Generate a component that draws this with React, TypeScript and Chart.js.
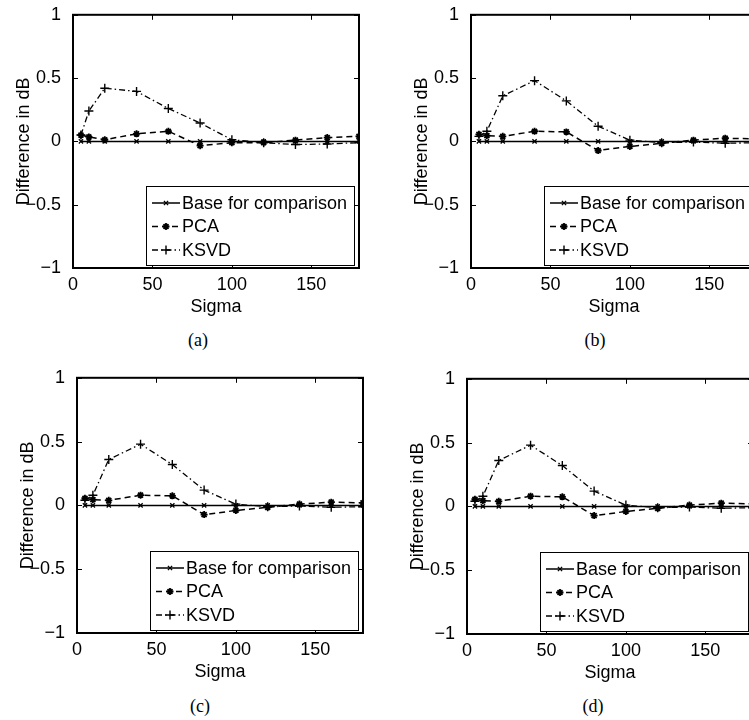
import React, { useEffect, useRef } from "react";
import { Chart, registerables } from "chart.js";

Chart.register(...registerables);

// ---- data ----
const sigma = [5, 10, 20, 40, 60, 80, 100, 120, 140, 160, 180];
const baseValues = [0, 0, 0, 0, 0, 0, 0, 0, 0, 0, 0];
const pcaA = [0.05, 0.035, 0.013, 0.06, 0.08, -0.034, -0.01, -0.01, 0.01, 0.03, 0.04];
const ksvdA = [0.05, 0.24, 0.42, 0.395, 0.26, 0.145, 0.013, -0.01, -0.025, -0.02, -0.01];
const pcaB = [0.056, 0.045, 0.04, 0.08, 0.075, -0.072, -0.04, -0.015, 0.01, 0.025, 0.02];
const ksvdB = [0.04, 0.08, 0.36, 0.48, 0.32, 0.12, 0.01, -0.01, -0.005, -0.015, -0.01];
const pcaC = [0.056, 0.045, 0.04, 0.08, 0.075, -0.072, -0.04, -0.015, 0.01, 0.025, 0.02];
const ksvdC = [0.04, 0.08, 0.36, 0.48, 0.32, 0.12, 0.01, -0.01, -0.005, -0.015, -0.01];
const pcaD = [0.056, 0.045, 0.04, 0.08, 0.075, -0.072, -0.04, -0.015, 0.01, 0.025, 0.02];
const ksvdD = [0.04, 0.08, 0.36, 0.48, 0.32, 0.12, 0.01, -0.01, -0.005, -0.015, -0.01];
const xTicks = [0, 50, 100, 150];
const yTicks = [-1, -0.5, 0, 0.5, 1];
const seriesLabels = ["Base for comparison", "PCA", "KSVD"];
const xTitle = "Sigma";
const yTitle = "Difference in dB";
const captions = ["(a)", "(b)", "(c)", "(d)"];

const FONT = '"Liberation Sans", Arial, Helvetica, sans-serif';

function fmtY(v: number): string {
  if (v < 0) return "\u2212" + String(Math.abs(v));
  return String(v);
}

function drawMarker(ctx: CanvasRenderingContext2D, style: string, x: number, y: number, r: number, w: number) {
  ctx.save();
  ctx.setLineDash([]);
  ctx.lineWidth = w;
  ctx.strokeStyle = "#000";
  ctx.beginPath();
  if (style === "cross" || style === "star") {
    ctx.moveTo(x - r, y);
    ctx.lineTo(x + r, y);
    ctx.moveTo(x, y - r);
    ctx.lineTo(x, y + r);
  }
  if (style === "crossRot" || style === "star") {
    const d = r * 0.7071;
    ctx.moveTo(x - d, y - d);
    ctx.lineTo(x + d, y + d);
    ctx.moveTo(x - d, y + d);
    ctx.lineTo(x + d, y - d);
  }
  ctx.stroke();
  ctx.restore();
}

const framePlugin = {
  id: "matlabFrame",
  afterDatasetsDraw(chart: any) {
    const { ctx, chartArea } = chart;
    const { left, top, right, bottom } = chartArea;
    const xs = chart.scales.x;
    const ys = chart.scales.y;
    const tl = 5;
    ctx.save();
    ctx.strokeStyle = "#000";
    ctx.lineWidth = 1;
    ctx.setLineDash([]);
    ctx.beginPath();
    for (const v of xTicks) {
      const px = Math.round(xs.getPixelForValue(v)) + 0.5;
      ctx.moveTo(px, bottom);
      ctx.lineTo(px, bottom - tl);
      ctx.moveTo(px, top);
      ctx.lineTo(px, top + tl);
    }
    for (const v of yTicks) {
      const py = Math.round(ys.getPixelForValue(v)) + 0.5;
      ctx.moveTo(left, py);
      ctx.lineTo(left + tl, py);
      ctx.moveTo(right, py);
      ctx.lineTo(right - tl, py);
    }
    ctx.stroke();
    ctx.lineWidth = 2;
    ctx.strokeRect(left, top, right - left, bottom - top);
    ctx.restore();
  },
};

const legendPlugin = {
  id: "boxLegend",
  afterDraw(chart: any) {
    const { ctx, chartArea } = chart;
    const bx = chartArea.left + 73;
    const by = chartArea.bottom - 82;
    const bw = 208;
    const bh = 79;
    ctx.save();
    ctx.fillStyle = "#fff";
    ctx.fillRect(bx, by, bw, bh);
    ctx.strokeStyle = "#000";
    ctx.lineWidth = 1;
    ctx.setLineDash([]);
    ctx.strokeRect(bx + 0.5, by + 0.5, bw, bh);
    chart.data.datasets.forEach((ds: any, i: number) => {
      const yy = by + 17 + i * 23.5;
      ctx.save();
      ctx.strokeStyle = "#000";
      ctx.lineWidth = ds.borderWidth;
      ctx.setLineDash(ds.borderDash || []);
      ctx.beginPath();
      ctx.moveTo(bx + 6, yy);
      ctx.lineTo(bx + 34, yy);
      ctx.stroke();
      ctx.restore();
      drawMarker(ctx, ds.pointStyle, bx + 20, yy, ds.pointRadius, ds.pointBorderWidth);
      ctx.fillStyle = "#000";
      ctx.font = "18px " + FONT;
      ctx.textBaseline = "middle";
      ctx.textAlign = "left";
      ctx.fillText(ds.label, bx + 36, yy + 1);
    });
    ctx.restore();
  },
};

type PanelProps = {
  pca: number[];
  ksvd: number[];
  L: number;
  T: number;
  B: number;
};

function Panel({ pca, ksvd, L, T, B }: PanelProps) {
  const ref = useRef<HTMLCanvasElement>(null);
  const padTop = 14.5;
  const xAxisH = 57;
  const yAxisW = 73;
  const cx = L - yAxisW;
  const cy = T - padTop;
  const W = 370;
  const H = Math.round(B - T + padTop + xAxisH);

  useEffect(() => {
    const toPts = (arr: number[]) => sigma.map((s, i) => ({ x: s, y: arr[i] }));
    const chart = new Chart(ref.current as HTMLCanvasElement, {
      type: "line",
      data: {
        datasets: [
          {
            label: seriesLabels[0],
            data: toPts(baseValues),
            borderColor: "#000",
            backgroundColor: "#000",
            borderWidth: 1.5,
            borderDash: [],
            pointStyle: "crossRot",
            pointRadius: 3,
            pointBorderWidth: 1.3,
            pointBorderColor: "#000",
            fill: false,
            tension: 0,
          },
          {
            label: seriesLabels[1],
            data: toPts(pca),
            borderColor: "#000",
            backgroundColor: "#000",
            borderWidth: 1.5,
            borderDash: [6, 4],
            pointStyle: "star",
            pointRadius: 3.5,
            pointBorderWidth: 1.8,
            pointBorderColor: "#000",
            fill: false,
            tension: 0,
          },
          {
            label: seriesLabels[2],
            data: toPts(ksvd),
            borderColor: "#000",
            backgroundColor: "#000",
            borderWidth: 1.3,
            borderDash: [6, 3, 1.5, 3],
            pointStyle: "cross",
            pointRadius: 4.5,
            pointBorderWidth: 1.4,
            pointBorderColor: "#000",
            fill: false,
            tension: 0,
          },
        ] as any,
      },
      options: {
        responsive: false,
        maintainAspectRatio: false,
        animation: false,
        devicePixelRatio: 1,
        layout: { padding: { top: padTop, right: 11, left: 0, bottom: 0 } },
        plugins: {
          legend: { display: false },
          tooltip: { enabled: false },
        },
        scales: {
          x: {
            type: "linear",
            min: 0,
            max: 180,
            afterBuildTicks: (s: any) => {
              s.ticks = xTicks.map((v) => ({ value: v }));
            },
            afterFit: (s: any) => {
              s.height = xAxisH;
            },
            grid: { display: false },
            border: { display: false },
            ticks: {
              color: "#000",
              font: { family: FONT, size: 18 },
              padding: -2,
              maxRotation: 0,
              autoSkip: false,
            },
            title: {
              display: true,
              text: xTitle,
              color: "#000",
              font: { family: FONT, size: 18 },
              padding: { top: 0, bottom: 7 },
            },
          },
          y: {
            type: "linear",
            min: -1,
            max: 1,
            afterBuildTicks: (s: any) => {
              s.ticks = yTicks.map((v) => ({ value: v }));
            },
            afterFit: (s: any) => {
              s.width = yAxisW;
            },
            grid: { display: false },
            border: { display: false },
            ticks: {
              color: "#000",
              font: { family: FONT, size: 18 },
              padding: 4,
              autoSkip: false,
              callback: (v: any) => fmtY(Number(v)),
            },
            title: {
              display: true,
              text: yTitle,
              color: "#000",
              font: { family: FONT, size: 18 },
              padding: { top: 13.5, bottom: 0 },
            },
          },
        },
      } as any,
      plugins: [framePlugin, legendPlugin],
    });
    return () => chart.destroy();
  }, [pca, ksvd]);

  return (
    <canvas
      ref={ref}
      width={W}
      height={H}
      style={{ position: "absolute", left: cx, top: cy, width: W, height: H }}
    />
  );
}

const captionStyle: React.CSSProperties = {
  position: "absolute",
  transform: "translate(-50%, -50%)",
  fontFamily: '"Liberation Serif", "Times New Roman", serif',
  fontSize: 18,
  color: "#000",
  whiteSpace: "nowrap",
};

export default function App() {
  return (
    <div
      style={{
        position: "absolute",
        left: 0,
        top: 0,
        width: 749,
        height: 720,
        overflow: "hidden",
        background: "#fff",
      }}
    >
      <Panel pca={pcaA} ksvd={ksvdA} L={73} T={14.5} B={268} />
      <Panel pca={pcaB} ksvd={ksvdB} L={471} T={14.5} B={268} />
      <Panel pca={pcaC} ksvd={ksvdC} L={77} T={377.5} B={633} />
      <Panel pca={pcaD} ksvd={ksvdD} L={467} T={378} B={633} />
      <div style={{ ...captionStyle, left: 198, top: 340 }}>{captions[0]}</div>
      <div style={{ ...captionStyle, left: 595, top: 340 }}>{captions[1]}</div>
      <div style={{ ...captionStyle, left: 200, top: 706 }}>{captions[2]}</div>
      <div style={{ ...captionStyle, left: 593, top: 706 }}>{captions[3]}</div>
    </div>
  );
}
